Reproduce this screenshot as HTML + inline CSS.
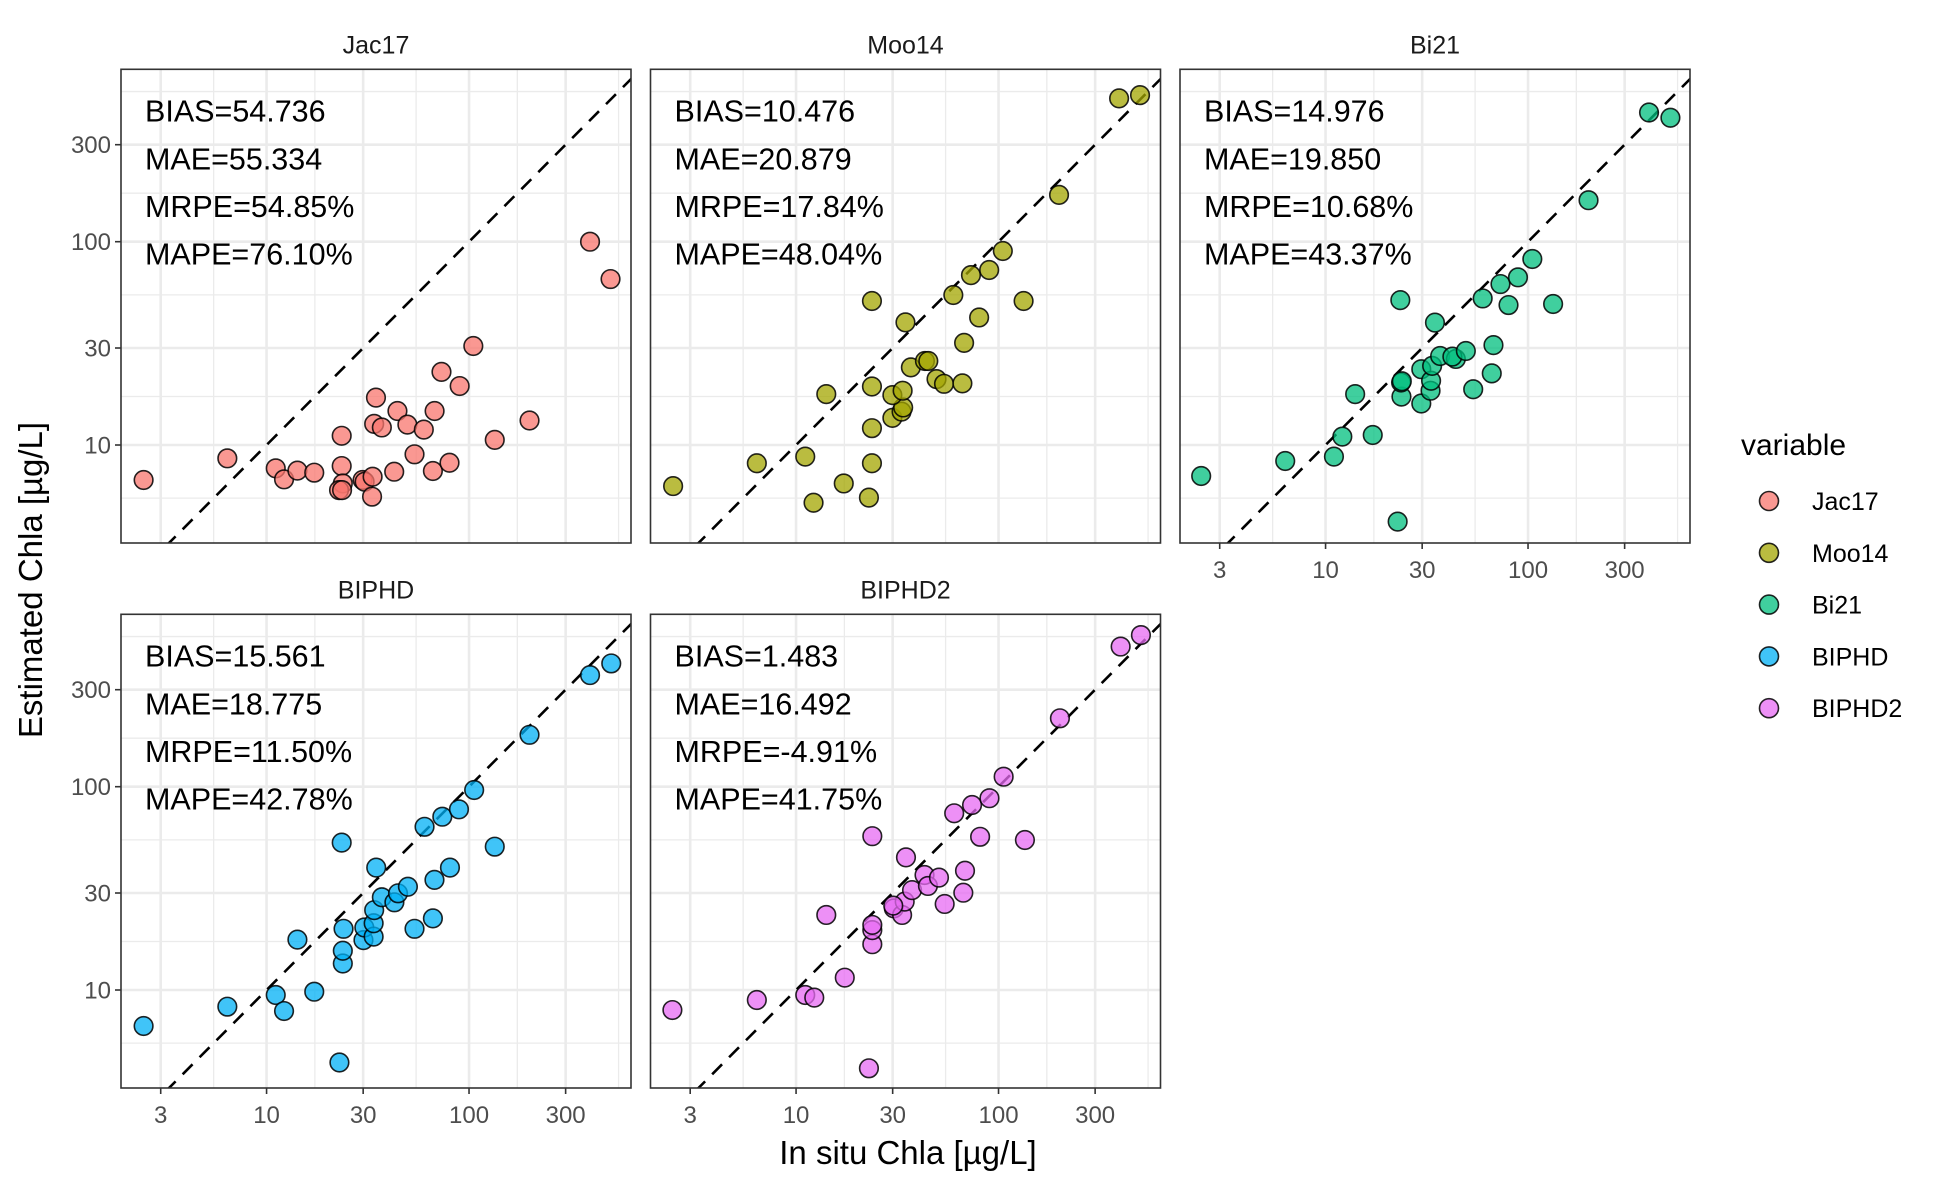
<!DOCTYPE html>
<html><head><meta charset="utf-8"><style>
html,body{margin:0;padding:0;background:#fff;}
svg{display:block;font-family:"Liberation Sans",sans-serif;}
</style></head><body>
<svg id="chart" width="1944" height="1188" viewBox="0 0 1944 1188" xmlns="http://www.w3.org/2000/svg"></svg>
<script>
const panelNames = ["Jac17","Moo14","Bi21","BIPHD","BIPHD2"];
const colors = ["#F8766D","#A3A500","#00BF7D","#00B0F6","#E76BF3"];
const statsJac17 = ["BIAS=54.736","MAE=55.334","MRPE=54.85%","MAPE=76.10%"];
const statsMoo14 = ["BIAS=10.476","MAE=20.879","MRPE=17.84%","MAPE=48.04%"];
const statsBi21 = ["BIAS=14.976","MAE=19.850","MRPE=10.68%","MAPE=43.37%"];
const statsBIPHD = ["BIAS=15.561","MAE=18.775","MRPE=11.50%","MAPE=42.78%"];
const statsBIPHD2 = ["BIAS=1.483","MAE=16.492","MRPE=-4.91%","MAPE=41.75%"];
const tickValues = [3,10,30,100,300];
const tickLabels = ["3","10","30","100","300"];

const jacX = [2.47,6.4,11.1,12.2,14.2,17.2,23.5,23.5,23.8,22.8,23.6,29.8,30.5,33.4,33.2,34.7,34.0,37.1,44.3,49.6,59.8,42.7,53.8,67.6,66.3,80.1,73.1,89.9,105,134,199,396,500];
const jacY = [6.73,8.6,7.68,6.78,7.48,7.31,11.1,7.88,6.47,6.0,6.0,6.73,6.6,6.98,5.57,17.1,12.7,12.2,14.7,12.6,11.9,7.39,9.0,14.7,7.45,8.18,22.9,19.5,30.7,10.6,13.2,100,65.5];
const mooX = [2.47,6.4,11.1,12.2,17.2,23.7,22.9,23.7,23.7,23.7,14.1,29.9,33.2,33.8,29.9,33.6,34.7,36.9,43.3,45.0,49.4,53.8,66.3,67.6,80.2,59.8,73.1,89.9,105,133,199,394,500];
const mooY = [6.28,8.13,8.77,5.2,6.47,8.13,5.51,12.1,19.4,51.1,17.8,13.6,14.6,15.3,17.6,18.5,40.1,24.1,25.9,25.9,21.1,20.0,20.1,31.8,42.4,54.7,68.5,72.6,90.0,51.1,170,507,526];
const biX = [2.43,6.32,11.0,12.1,17.1,14.0,22.7,23.4,23.7,23.6,23.8,29.7,29.7,33.0,33.2,33.6,36.8,34.7,44.0,42.3,49.3,53.6,66.2,67.5,59.7,73.1,80.1,89.2,105,133,199,396,505];
const biY = [7.04,8.34,8.77,11.0,11.2,17.8,4.2,51.6,17.3,20.3,20.6,16.0,23.6,18.5,20.7,24.5,27.4,40.0,26.5,27.2,29.0,18.8,22.5,31.0,52.6,61.9,48.8,66.8,82.2,49.4,160,432,407];
const biphdX = [2.47,6.4,11.1,12.2,17.2,14.2,22.9,23.8,23.8,24.0,23.5,30.1,30.4,33.8,33.8,34.0,34.8,37.1,42.8,44.6,49.9,53.8,66.3,67.5,80.5,60.3,73.8,89.2,106,134,199,396,504];
const biphdY = [6.65,8.28,9.45,7.88,9.81,17.7,4.40,13.5,15.6,20.0,53.1,17.6,20.3,18.3,21.3,24.7,40.0,28.6,27.0,29.9,32.2,20.0,22.5,34.8,40.0,63.5,71.2,77.4,96.3,50.7,180,354,404];
const biphd2X = [2.45,6.4,11.1,12.3,17.4,14.1,22.9,23.8,23.8,23.8,23.8,30.4,33.4,34.4,34.9,37.4,43.1,44.8,50.8,54.2,67.0,68.3,60.4,74.0,81.1,90.2,106,135,201,401,505,30.2];
const biphd2Y = [7.97,8.93,9.45,9.17,11.5,23.4,4.12,16.8,19.7,20.9,57.1,25.2,23.4,27.2,44.9,31.0,36.8,32.5,35.7,26.5,30.1,38.6,74.0,81.3,56.7,87.8,112,54.7,217,489,557,26.0];

const xsAll = [jacX,mooX,biX,biphdX,biphd2X];
const ysAll = [jacY,mooY,biY,biphdY,biphd2Y];
const statsAll = [statsJac17,statsMoo14,statsBi21,statsBIPHD,statsBIPHD2];

const NS="http://www.w3.org/2000/svg";
const svg=document.getElementById('chart');
function mk(tag,attrs,parent){const e=document.createElementNS(NS,tag);for(const k in attrs)e.setAttribute(k,attrs[k]);(parent||svg).appendChild(e);return e;}

const PW=510, PH=473.7;
const LX0=0.281, LX1=2.80, LY0=0.518, LY1=2.848;
function panelPos(i){const c=i%3, r=Math.floor(i/3);return {left:121+c*529.5, top:69.3+r*545};}
function sx(p,v){return p.left+(Math.log10(v)-LX0)/(LX1-LX0)*PW;}
function sy(p,v){return p.top+PH-(Math.log10(v)-LY0)/(LY1-LY0)*PH;}

const minors=[Math.sqrt(3),Math.sqrt(30),Math.sqrt(300),Math.sqrt(3000),Math.sqrt(30000),Math.sqrt(300000)];

panelNames.forEach((name,i)=>{
  const p=panelPos(i);
  const g=mk('g',{});
  
  
  const clipId='clip'+i;
  const cp=mk('clipPath',{id:clipId},g);
  mk('rect',{x:p.left,y:p.top,width:PW,height:PH},cp);
  const grid=mk('g',{'clip-path':'url(#'+clipId+')'},g);
  
  
  minors.forEach(v=>{
    mk('line',{x1:sx(p,v),x2:sx(p,v),y1:p.top,y2:p.top+PH,stroke:'#ebebeb','stroke-width':1.3},grid);
    mk('line',{x1:p.left,x2:p.left+PW,y1:sy(p,v),y2:sy(p,v),stroke:'#ebebeb','stroke-width':1.3},grid);
  });
  tickValues.forEach(v=>{
    mk('line',{x1:sx(p,v),x2:sx(p,v),y1:p.top,y2:p.top+PH,stroke:'#ebebeb','stroke-width':2.6},grid);
    mk('line',{x1:p.left,x2:p.left+PW,y1:sy(p,v),y2:sy(p,v),stroke:'#ebebeb','stroke-width':2.6},grid);
  });
  const ref=mk('line',{x1:sx(p,1),y1:sy(p,1),x2:sx(p,2000),y2:sy(p,2000),stroke:'#000','stroke-width':2.6,'stroke-dasharray':'14 10'},grid);
  
  
  const xs=xsAll[i], ys=ysAll[i];
  xs.forEach((xv,k)=>{
    const c=mk('circle',{cx:sx(p,xv),cy:sy(p,ys[k]),r:9.3,fill:colors[i],'fill-opacity':0.75,stroke:'#000','stroke-opacity':0.85,'stroke-width':1.6},grid);
    
    
  });
  statsAll[i].forEach((s,k)=>{
    const t=mk('text',{x:p.left+24,y:p.top+52.4+k*47.6,'font-size':30.5,fill:'#000'},g);
    t.textContent=s;
    
    
  });
  const b=mk('rect',{x:p.left,y:p.top,width:PW,height:PH,fill:'none',stroke:'#333','stroke-width':1.6},g);
  
  
  const st=mk('text',{x:p.left+PW/2,y:p.top-16,'font-size':25,'text-anchor':'middle',fill:'#1a1a1a'},g);
  st.textContent=name;
  
  
  if(i%3===0){
    tickValues.forEach((v,k)=>{
      const y=sy(p,v); if(y<p.top||y>p.top+PH) return;
      mk('line',{x1:p.left-6,x2:p.left,y1:y,y2:y,stroke:'#333','stroke-width':1.6},g);
      const t=mk('text',{x:p.left-10,y:y+8.5,'font-size':24,'text-anchor':'end',fill:'#4d4d4d'},g);
      t.textContent=tickLabels[k];
      
      
    });
  }
  if(i>=2){
    tickValues.forEach((v,k)=>{
      const x=sx(p,v);
      mk('line',{x1:x,x2:x,y1:p.top+PH,y2:p.top+PH+6,stroke:'#333','stroke-width':1.6},g);
      const t=mk('text',{x:x,y:p.top+PH+35,'font-size':24,'text-anchor':'middle',fill:'#4d4d4d'},g);
      t.textContent=tickLabels[k];
      
      
    });
  }
});

const xt=mk('text',{x:908,y:1164,'font-size':33,'text-anchor':'middle',fill:'#000'});
xt.textContent='In situ Chla [µg/L]';


const yt=mk('text',{x:0,y:0,'font-size':33,'text-anchor':'middle',fill:'#000',transform:'translate(42,580) rotate(-90)'});
yt.textContent='Estimated Chla [µg/L]';



const lg=mk('g',{});


const lt=mk('text',{x:1741,y:455,'font-size':30,fill:'#000'},lg);
lt.textContent='variable';


panelNames.forEach((name,k)=>{
  const y=501+k*51.8;
  const e=mk('g',{},lg);
  
  
  mk('circle',{cx:1769,cy:y,r:9.5,fill:colors[k],'fill-opacity':0.75,stroke:'#000','stroke-opacity':0.85,'stroke-width':1.6},e);
  const t=mk('text',{x:1812,y:y+9,'font-size':25,fill:'#000'},e);
  t.textContent=name;
});
</script>
</body></html>
